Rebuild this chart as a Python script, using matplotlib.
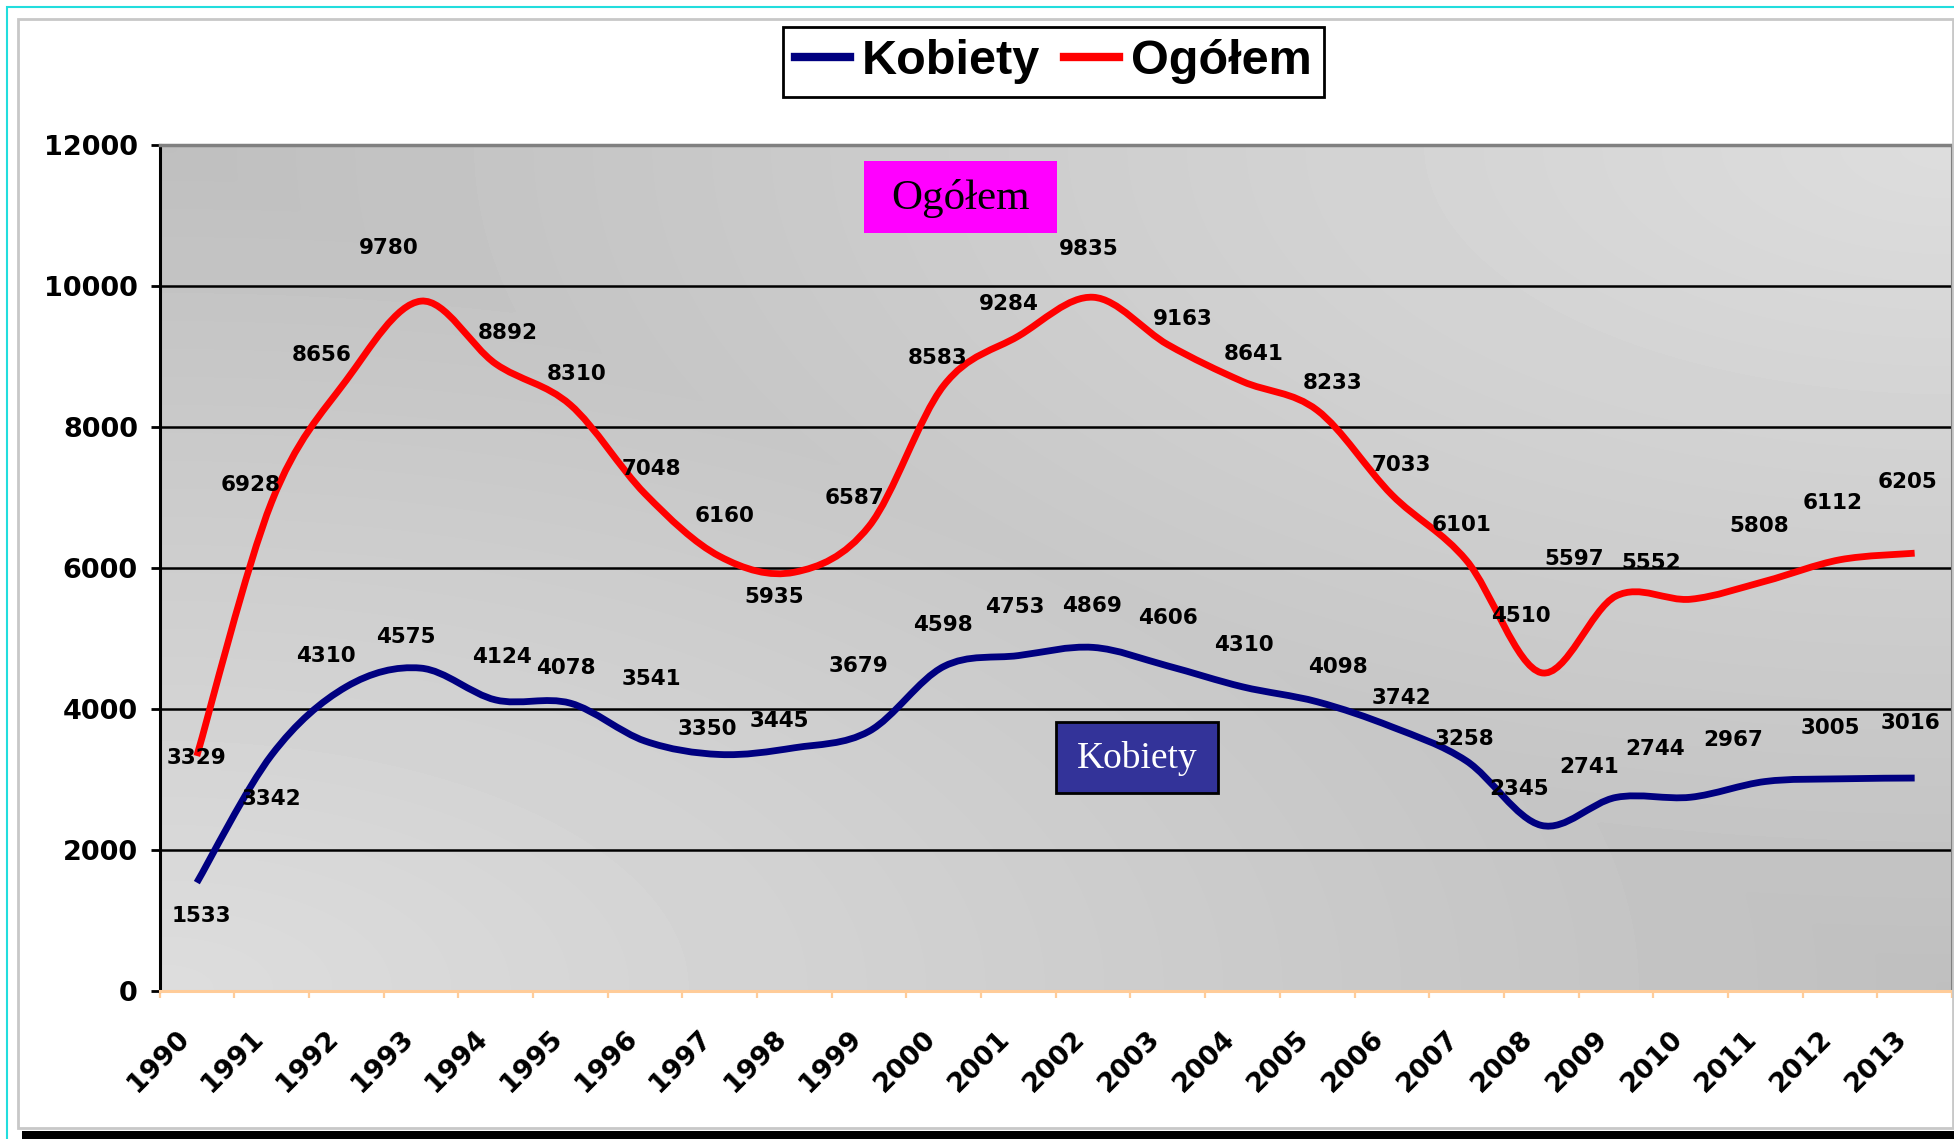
import numpy as np
import matplotlib.pyplot as plt
import matplotlib.transforms as mtransforms
from matplotlib.path import Path
from matplotlib.patches import PathPatch, Rectangle
from matplotlib.lines import Line2D

# dane
years = [str(y) for y in range(1990, 2014)]
ogolem = [3329, 6928, 8656, 9780, 8892, 8310, 7048, 6160, 5935, 6587, 8583, 9284,
          9835, 9163, 8641, 8233, 7033, 6101, 4510, 5597, 5552, 5808, 6112, 6205]
kobiety = [1533, 3342, 4310, 4575, 4124, 4078, 3541, 3350, 3445, 3679, 4598, 4753,
           4869, 4606, 4310, 4098, 3742, 3258, 2345, 2741, 2744, 2967, 3005, 3016]

# przesuniecia etykiet danych (piksele, dx, dy)
ogolem_off = [(0, -2), (-21, 17), (-25, 25), (-32, 53), (12, 31), (6, 31), (6, 25), (5, 40),
              (-20, -25), (-15, 28), (-6, 28), (-10, 32), (-4, 48), (15, 26), (11, 27), (15, 27),
              (10, 30), (-5, 36), (-20, 57), (-42, 37), (-39, 36), (-6, 55), (-7, 57), (-7, 71)]
kobiety_off = [(5, -33), (0, -44), (-20, 31), (-15, 31), (6, 43), (-4, 35), (6, 62), (-12, 25),
               (-15, 27), (-11, 65), (-1, 42), (-4, 49), (-1, 41), (0, 48), (1, 42), (21, 35),
               (10, 29), (-2, 22), (-22, 36), (-27, 30), (-36, 48), (-32, 42), (-10, 51), (-4, 55)]


def smooth_path(xs, ys):
    # wygladzona linia jak w Excelu (Bezier z sasiednich punktow)
    pts = np.column_stack([xs, ys]).astype(float)
    n = len(pts)
    verts = [pts[0]]
    codes = [Path.MOVETO]
    for i in range(n - 1):
        p0 = pts[i - 1] if i > 0 else pts[i]
        p1 = pts[i]
        p2 = pts[i + 1]
        p3 = pts[i + 2] if i + 2 < n else pts[i + 1]
        verts += [p1 + (p2 - p0) / 6, p2 - (p3 - p1) / 6, p2]
        codes += [Path.CURVE4] * 3
    return Path(verts, codes)


W, H = 1954, 1139
fig = plt.figure(figsize=(W / 100, H / 100), dpi=100)
fig.patch.set_facecolor('white')

# ramki wykresu
fig.add_artist(Rectangle((7 / W, -0.1), 1.2, 1.1 - 7 / H, transform=fig.transFigure,
                         fill=False, edgecolor='#22dddd', linewidth=1.5))
fig.add_artist(Rectangle((18 / W, 1 - 1128 / H), 1935 / W, (1128 - 19) / H,
                         transform=fig.transFigure, fill=False, edgecolor='#c8c8c8', linewidth=2))
fig.add_artist(Rectangle((22 / W, 0), 1.0, (H - 1131) / H, transform=fig.transFigure,
                         facecolor='black', edgecolor='none'))

left, right = 159.5 / W, 1952 / W
top, bottom = 1 - 144.6 / H, 1 - 990.7 / H
ax = fig.add_axes([left, bottom, right - left, top - bottom])

# tlo z gradientem
a = np.linspace(0, 1, 400)
b = np.linspace(0, 1, 200)
A, B = np.meshgrid(a, b)
d = np.minimum(np.hypot(A, B), np.hypot(1 - A, 1 - B))
d = np.clip(d, 0, 1)
shade = 221 - 30 * d
ax.imshow(shade, cmap='gray', vmin=0, vmax=255, extent=[0, 1, 0, 1], origin='lower',
          transform=ax.transAxes, aspect='auto', zorder=-1, interpolation='bilinear')

x = np.arange(len(years))
ax.add_patch(PathPatch(smooth_path(x, ogolem), fill=False, edgecolor='#ff0000',
                       linewidth=4.9, capstyle='butt', joinstyle='round', zorder=3))
ax.add_patch(PathPatch(smooth_path(x, kobiety), fill=False, edgecolor='#000080',
                       linewidth=4.9, capstyle='butt', joinstyle='round', zorder=3))

for xi, v, (dx, dy) in zip(x, ogolem, ogolem_off):
    ax.annotate(str(v), (xi, v), xytext=(dx, dy), textcoords='offset pixels',
                ha='center', va='center', fontsize=15.5, fontweight='bold', zorder=5)
for xi, v, (dx, dy) in zip(x, kobiety, kobiety_off):
    ax.annotate(str(v), (xi, v), xytext=(dx, dy), textcoords='offset pixels',
                ha='center', va='center', fontsize=15.5, fontweight='bold', zorder=5)

ax.set_xlim(-0.5, len(years) - 0.5)
ax.set_ylim(0, 12000)
ax.set_yticks(np.arange(0, 12001, 2000))
ax.grid(axis='y', color='black', linewidth=1.8)
ax.set_axisbelow(True)

ax.set_xticks(np.arange(-0.5, len(years), 1))
ax.set_xticklabels([])
ax.set_xticks(x, minor=True)
ax.set_xticklabels(years, minor=True, rotation=45, ha='right', va='top',
                   rotation_mode='anchor', fontsize=19.5, fontweight='bold')
ax.tick_params(axis='x', which='major', direction='out', length=5, width=1.6, color='#ffcc99')
ax.tick_params(axis='x', which='minor', length=0, pad=25)
ax.tick_params(axis='y', direction='out', length=6.5, width=2, color='black', pad=9)
for lab in ax.get_yticklabels():
    lab.set_fontsize(19.5)
    lab.set_fontweight('bold')
shift = mtransforms.ScaledTranslation(-0.21, 0, fig.dpi_scale_trans)
for lab in ax.get_xticklabels(minor=True):
    lab.set_transform(lab.get_transform() + shift)

ax.spines['left'].set_color('black')
ax.spines['left'].set_linewidth(2.2)
ax.spines['bottom'].set_color('#ffcc99')
ax.spines['bottom'].set_linewidth(2.2)
ax.spines['top'].set_color('#808080')
ax.spines['top'].set_linewidth(2.5)
ax.spines['right'].set_color('#808080')
ax.spines['right'].set_linewidth(1.5)

# pola tekstowe
ax.add_patch(Rectangle((0.393, 0.8955), 0.1077, 0.0851, transform=ax.transAxes,
                       facecolor='#ff00ff', edgecolor='none', zorder=4))
ax.text(0.4469, 0.936, 'Ogółem', transform=ax.transAxes, ha='center', va='center',
        fontsize=31, family='Liberation Serif', color='black', zorder=5)
ax.add_patch(Rectangle((0.5001, 0.2337), 0.0904, 0.0839, transform=ax.transAxes,
                       facecolor='#333399', edgecolor='black', linewidth=2, zorder=4))
ax.text(0.5453, 0.274, 'Kobiety', transform=ax.transAxes, ha='center', va='center',
        fontsize=27, family='Liberation Serif', color='white', zorder=5)

handles = [Line2D([], [], color='#000080', linewidth=6),
           Line2D([], [], color='#ff0000', linewidth=6)]
leg = fig.legend(handles, ['Kobiety', 'Ogółem'], loc='center',
                 bbox_to_anchor=(1053.5 / W, 1 - 62 / H), ncol=2,
                 prop={'family': 'Liberation Sans', 'weight': 'bold', 'size': 35},
                 handlelength=1.13, handletextpad=0.25, columnspacing=0.5,
                 borderpad=0.25, fancybox=False, edgecolor='black', framealpha=1)
leg.get_frame().set_linewidth(2)

fig.savefig('out.png', dpi=100)
